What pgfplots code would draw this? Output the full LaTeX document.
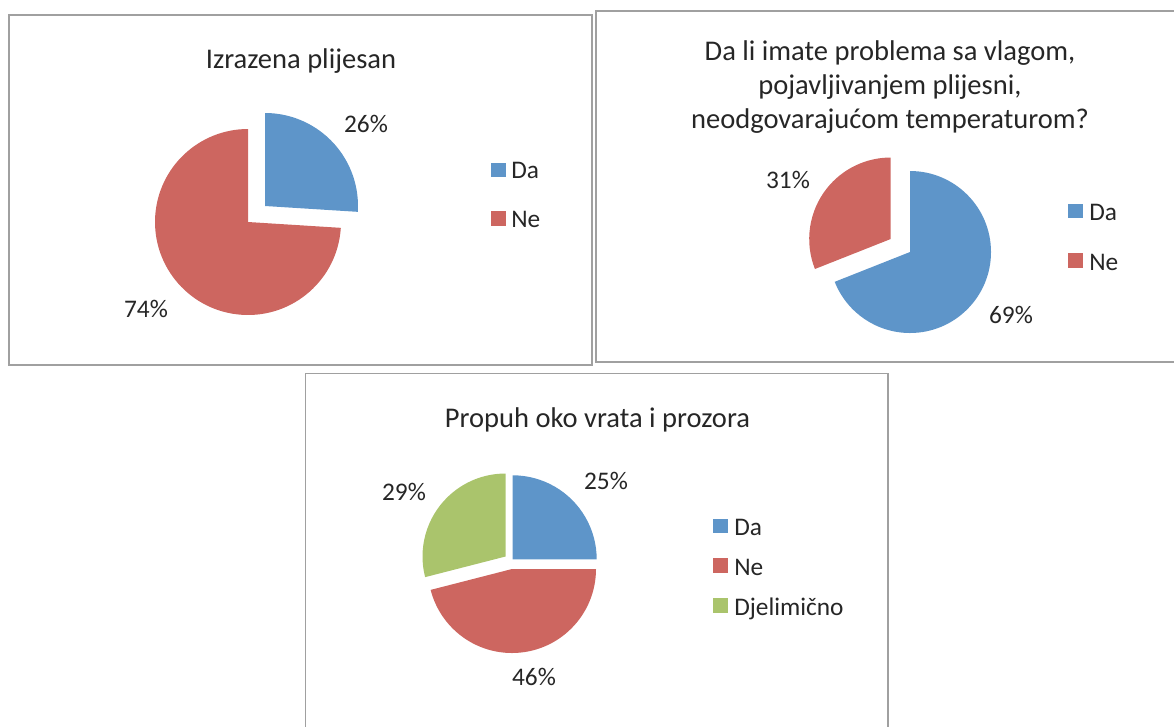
\documentclass[border=0pt]{standalone}
\usepackage{pgfplots}
\pgfplotsset{compat=1.18}
\usepackage{fontspec}
\setmainfont{Carlito}
\definecolor{cblue}{RGB}{94,149,201}
\definecolor{cred}{RGB}{205,102,96}
\definecolor{cgreen}{RGB}{170,196,108}
\definecolor{cbox}{RGB}{160,160,160}
% pie values (percent)
\def\aDa{26}\def\aNe{74}
\def\bDa{69}\def\bNe{31}
\def\cDa{25}\def\cNe{46}\def\cDj{29}
% slice: apex x, apex y (px), radius (px), start angle, value, colour
\newcommand{\slice}[6]{%
  \fill[#6] (axis cs:#1,#2) -- ++({#4}:{#3*0.75pt})
    arc[start angle={#4}, delta angle={-3.6*#5}, radius={#3*0.75pt}] -- cycle;}
\newcommand{\ttl}{\fontsize{21.4}{25.5}\selectfont}
\newcommand{\lbl}{\fontsize{19}{23}\selectfont}
\begin{document}
\begin{tikzpicture}
\useasboundingbox (0,0) rectangle (880.5pt,544.5pt);
\begin{axis}[anchor=south west, at={(0,0)}, x=0.75pt, y=0.75pt,
  xmin=0, xmax=1174, ymin=0, ymax=726, y dir=reverse,
  hide axis, clip=false]
% boxes
\draw[cbox, line width=1.2pt] (axis cs:9,15) rectangle (axis cs:592,365);
\draw[cbox, line width=1.2pt] (axis cs:596,11) rectangle (axis cs:1178,362);
\draw[cbox, line width=1.2pt] (axis cs:305.5,373.5) rectangle (axis cs:888,732);
% ---- chart 1
\node[anchor=base, text=black!85] at (axis cs:301,68) {\ttl Izrazena plijesan};
\slice{265}{206}{93}{90}{\aDa}{cblue}
\slice{248}{222}{93}{90-3.6*\aDa}{\aNe}{cred}
\node[anchor=base, text=black!85] at (axis cs:366,132) {\lbl 26\%};
\node[anchor=base, text=black!85] at (axis cs:146,317) {\lbl 74\%};
\fill[cblue] (axis cs:491,162.5) rectangle (axis cs:505.5,177);
\fill[cred] (axis cs:491,211) rectangle (axis cs:505.5,225.5);
\node[anchor=base west, inner sep=0pt, text=black!85] at (axis cs:511,178) {\lbl Da};
\node[anchor=base west, inner sep=0pt, text=black!85] at (axis cs:511,227.5) {\lbl Ne};
% ---- chart 2
\node[anchor=base, text=black!85] at (axis cs:890,60) {\ttl Da li imate problema sa vlagom,};
\node[anchor=base, text=black!85] at (axis cs:890,94) {\ttl pojavljivanjem plijesni,};
\node[anchor=base, text=black!85] at (axis cs:890,128) {\ttl neodgovarajućom temperaturom?};
\slice{910}{252}{81}{90}{\bDa}{cblue}
\slice{890.7}{239}{81.5}{90-3.6*\bDa}{\bNe}{cred}
\node[anchor=base, text=black!85] at (axis cs:788,188) {\lbl 31\%};
\node[anchor=base, text=black!85] at (axis cs:1011,323) {\lbl 69\%};
\fill[cblue] (axis cs:1068,203.5) rectangle (axis cs:1082.5,218);
\fill[cred] (axis cs:1068,253) rectangle (axis cs:1082.5,267.5);
\node[anchor=base west, inner sep=0pt, text=black!85] at (axis cs:1089,220) {\lbl Da};
\node[anchor=base west, inner sep=0pt, text=black!85] at (axis cs:1089,270) {\lbl Ne};
% ---- chart 3
\node[anchor=base, text=black!85] at (axis cs:597.5,427) {\ttl Propuh oko vrata i prozora};
\slice{512.7}{559.3}{84}{90}{\cDa}{cblue}
\slice{512}{569}{84}{90-3.6*\cDa}{\cNe}{cred}
\slice{505.5}{556.5}{83}{90-3.6*(\cDa+\cNe)}{\cDj}{cgreen}
\node[anchor=base, text=black!85] at (axis cs:606,489) {\lbl 25\%};
\node[anchor=base, text=black!85] at (axis cs:404,500) {\lbl 29\%};
\node[anchor=base, text=black!85] at (axis cs:534,685) {\lbl 46\%};
\fill[cblue] (axis cs:713,518.5) rectangle (axis cs:727.5,533);
\fill[cred] (axis cs:713,558) rectangle (axis cs:727.5,572.5);
\fill[cgreen] (axis cs:713,598) rectangle (axis cs:727.5,612.5);
\node[anchor=base west, inner sep=0pt, text=black!85] at (axis cs:734,535) {\lbl Da};
\node[anchor=base west, inner sep=0pt, text=black!85] at (axis cs:734,575) {\lbl Ne};
\node[anchor=base west, inner sep=0pt, text=black!85] at (axis cs:734,615) {\lbl Djelimično};
\end{axis}
\end{tikzpicture}
\end{document}
